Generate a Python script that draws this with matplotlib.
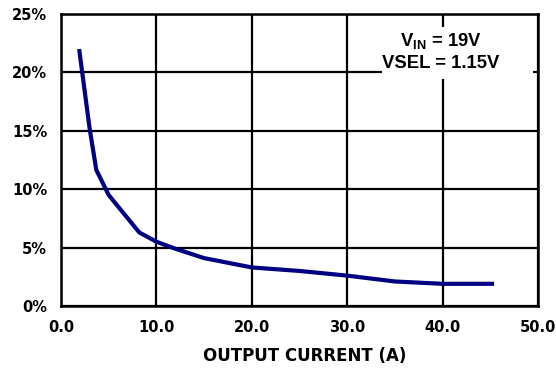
import matplotlib
matplotlib.use("Agg")
import matplotlib.pyplot as plt
from matplotlib.patches import Rectangle

# curve
current_a = [1.9, 3.0, 3.7, 5.0, 8.2, 10.0, 12.0, 15.0, 20.0, 25.0, 30.0, 35.0, 40.0, 45.4]
percent = [22.0, 15.2, 11.65, 9.5, 6.3, 5.5, 4.9, 4.1, 3.3, 3.0, 2.6, 2.1, 1.9, 1.9]

x_ticks = [0, 10, 20, 30, 40, 50]
x_labels = ["0.0", "10.0", "20.0", "30.0", "40.0", "50.0"]
y_ticks = [0, 5, 10, 15, 20, 25]
y_labels = ["0%", "5%", "10%", "15%", "20%", "25%"]

plt.rcParams['font.family'] = ['DejaVu Sans']
plt.rcParams['font.weight'] = 'bold'
plt.rcParams['mathtext.fontset'] = 'custom'
plt.rcParams['mathtext.rm'] = 'Liberation Sans:bold'
plt.rcParams['mathtext.bf'] = 'Liberation Sans:bold'

fig = plt.figure(figsize=(5.56, 3.71), dpi=100)
ax = fig.add_axes([61 / 556, 1 - 306 / 371, 477 / 556, 292 / 371])

ax.plot(current_a, percent, color='#000080', lw=3, solid_capstyle='butt', zorder=3)

ax.set_xlim(0, 50)
ax.set_ylim(0, 25)
ax.set_xticks(x_ticks)
ax.set_xticklabels(x_labels, fontsize=10.5, fontweight='bold')
ax.set_yticks(y_ticks)
ax.set_yticklabels(y_labels, fontsize=10.5, fontweight='bold')
ax.tick_params(axis='x', length=0, pad=10)
ax.tick_params(axis='y', length=0, pad=10)
ax.grid(True, color='black', lw=1.6)
for s in ax.spines.values():
    s.set_linewidth(1.8)

fig.text(305 / 556, 1 - 356 / 371, "OUTPUT CURRENT (A)", fontsize=12, fontweight='bold',
         ha='center', va='center')

# white patch behind the note, cutting the grid like the reference
ax.add_patch(Rectangle((0.673, 0.777), 0.317, 0.178, transform=ax.transAxes,
                       facecolor='white', edgecolor='none', zorder=2.5))
ax.text(0.796, 0.906, "V$_{\\mathbf{IN}}$ = 19V", transform=ax.transAxes,
        fontsize=13.3, fontweight='bold', family='Liberation Sans',
        ha='center', va='center', zorder=4)
ax.text(0.797, 0.829, "VSEL = 1.15V", transform=ax.transAxes,
        fontsize=13.3, fontweight='bold', family='Liberation Sans',
        ha='center', va='center', zorder=4)

fig.savefig("out.png", dpi=100)
